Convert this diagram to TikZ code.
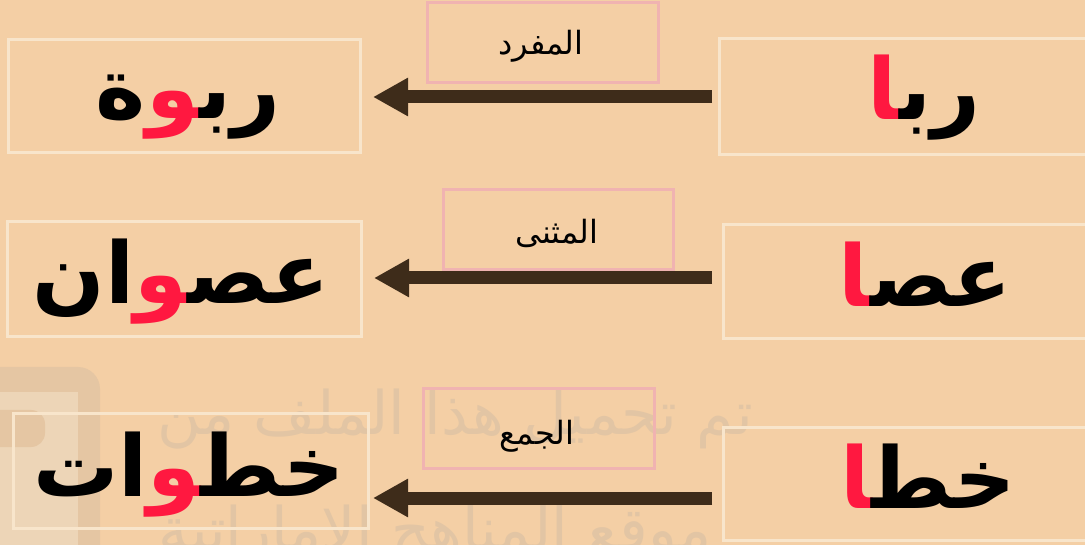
\documentclass[tikz,border=0pt]{standalone}
\usepackage{fontspec}
\usetikzlibrary{arrows.meta}
\newfontfamily\arb[Script=Arabic]{DejaVu Sans}
\TeXXeTstate=1
\definecolor{bg}{HTML}{F4CFA5}
\definecolor{boxline}{HTML}{F8E5CB}
\definecolor{pinkline}{HTML}{F0B3B1}
\definecolor{arrowc}{HTML}{3E2C1A}
\definecolor{wred}{HTML}{FF1840}
\definecolor{wm}{HTML}{E2C5A4}
\definecolor{logoband}{HTML}{E5C6A3}
\definecolor{logoin}{HTML}{EDD5B7}
\def\zj{^^^^200d}
\begin{document}
\begin{tikzpicture}[x=1pt,y=-1pt,
  wordbox/.style={draw=boxline,line width=3pt,inner sep=0pt},
  labelbox/.style={draw=pinkline,line width=3pt,inner sep=0pt},
  bigword/.style={anchor=base,inner sep=0pt,font=\arb\bfseries\fontsize{85}{90}\selectfont},
  labeltext/.style={anchor=base,inner sep=0pt,font=\arb\fontsize{32}{36}\selectfont},
  wmtext/.style={anchor=base,inner sep=0pt,text=wm,font=\arb\fontsize{60}{64}\selectfont},
  conn/.style={draw=arrowc,line width=13pt,-{Triangle[length=35pt,width=36pt]}},
  ]
\fill[bg] (0,0) rectangle (1085,545);
\useasboundingbox (0,0) rectangle (1085,545);
% faint logo and watermark
\fill[logoband,rounded corners=22pt] (-40,367) rectangle (100,600);
\fill[logoin] (-40,392) rectangle (78,600);
\fill[logoband,rounded corners=14pt] (-40,410) rectangle (45,447);
\node[wmtext] (wm1) at (455,435) {\beginR تم تحميل هذا الملف من\endR};
\node[wmtext] (wm2) at (435,550) {\beginR موقع المناهج الإماراتية\endR};
% boxes
\node[wordbox,minimum width=352pt,minimum height=113pt] (l1) at (184,96.5) {};
\node[wordbox,minimum width=371pt,minimum height=116pt] (r1) at (904.5,97) {};
\node[wordbox,minimum width=354pt,minimum height=115pt] (l2) at (184,279.5) {};
\node[wordbox,minimum width=367pt,minimum height=114pt] (r2) at (906.5,282) {};
\node[wordbox,minimum width=355pt,minimum height=114pt] (l3) at (190.5,471) {};
\node[wordbox,minimum width=367pt,minimum height=113pt] (r3) at (906.5,483.5) {};
\node[labelbox,minimum width=231pt,minimum height=80pt] (t1) at (542.5,43) {};
\node[labelbox,minimum width=230pt,minimum height=80pt] (t2) at (558,230) {};
\node[labelbox,minimum width=231pt,minimum height=79pt] (t3) at (538.5,428.5) {};
% words
\node[bigword] (w1) at (188,119) {ة{\color{wred}\zj و}رب\zj};
\node[bigword] (w2) at (924,120) {{\color{wred}\zj ا}رب\zj};
\node[bigword] (w3) at (181,304) {ان{\color{wred}\zj و}عص\zj};
\node[bigword] (w4) at (925,307) {{\color{wred}\zj ا}عص\zj};
\node[bigword] (w5) at (189,496) {ات{\color{wred}\zj و}خط\zj};
\node[bigword] (w6) at (928,508) {{\color{wred}\zj ا}خط\zj};
% labels
\node[labeltext] (n1) at (541,55) {المفرد};
\node[labeltext] (n2) at (557,244) {المثنى};
\node[labeltext] (n3) at (537,444) {الجمع};
% arrows
\coordinate (y1) at (0,97);
\coordinate (y2) at (0,278);
\coordinate (y3) at (0,498);
\draw[conn,shorten <=5.5pt,shorten >=11.5pt] (r1.west |- y1) -- (l1.east |- y1);
\draw[conn,shorten <=9.5pt,shorten >=11.5pt] (r2.west |- y2) -- (l2.east |- y2);
\draw[conn,shorten <=9.5pt,shorten >=3.5pt] (r3.west |- y3) -- (l3.east |- y3);
\end{tikzpicture}
\end{document}
